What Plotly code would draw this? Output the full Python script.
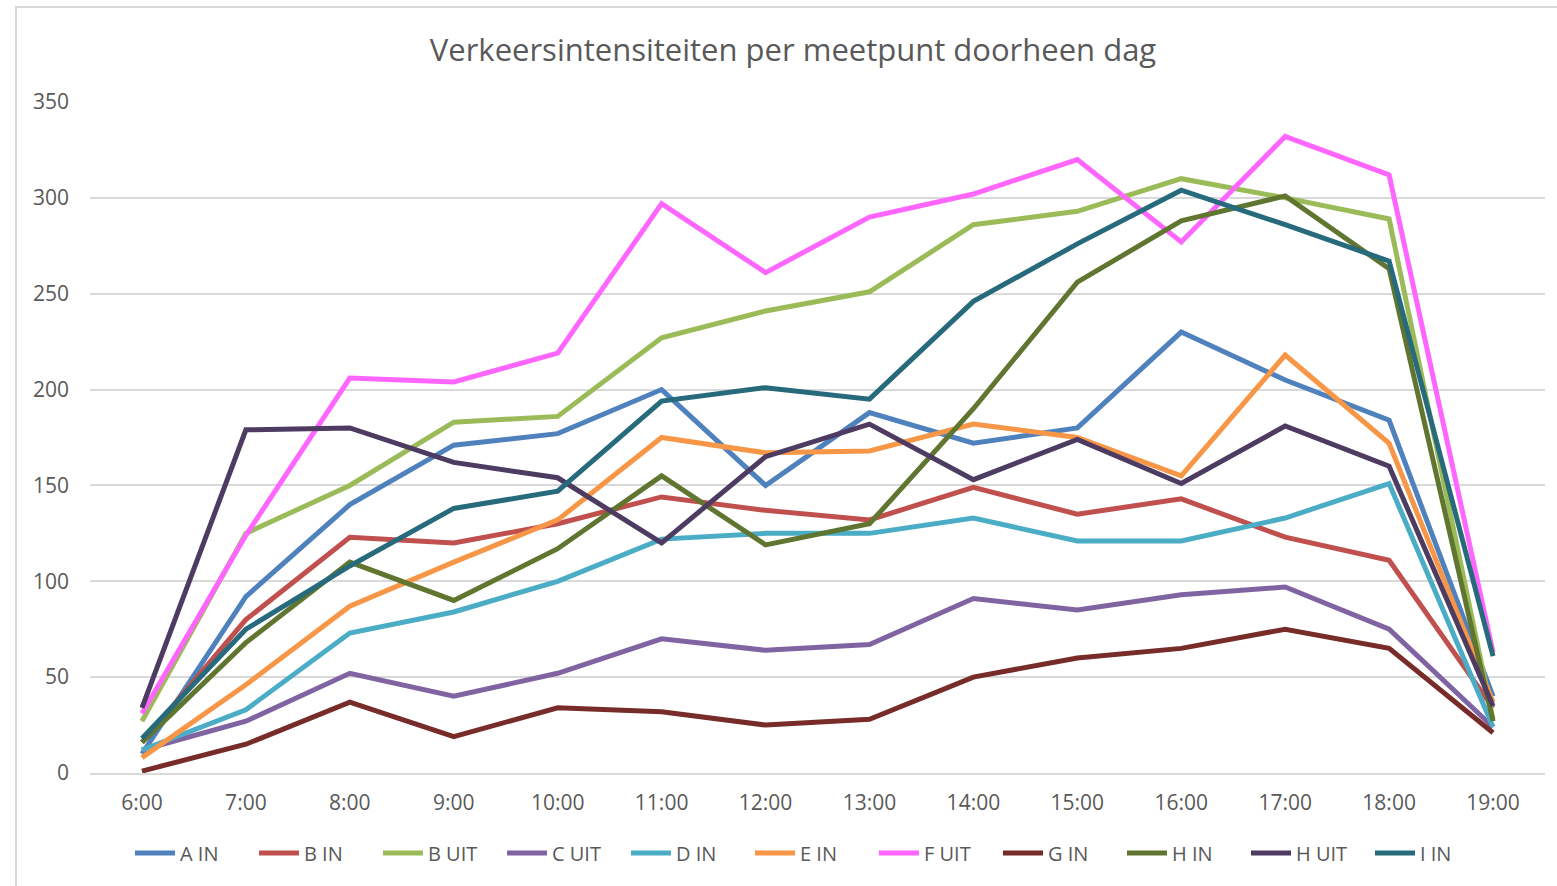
import plotly.graph_objects as go

hours = ["6:00", "7:00", "8:00", "9:00", "10:00", "11:00", "12:00",
         "13:00", "14:00", "15:00", "16:00", "17:00", "18:00", "19:00"]

a_in  = [10, 92, 140, 171, 177, 200, 150, 188, 172, 180, 230, 205, 184, 40]
b_in  = [16, 80, 123, 120, 130, 144, 137, 132, 149, 135, 143, 123, 111, 34]
b_uit = [27, 125, 150, 183, 186, 227, 241, 251, 286, 293, 310, 300, 289, 28]
c_uit = [12, 27, 52, 40, 52, 70, 64, 67, 91, 85, 93, 97, 75, 24]
d_in  = [12, 33, 73, 84, 100, 122, 125, 125, 133, 121, 121, 133, 151, 24]
e_in  = [8, 46, 87, 110, 132, 175, 167, 168, 182, 175, 155, 218, 172, 37]
f_uit = [31, 124, 206, 204, 219, 297, 261, 290, 302, 320, 277, 332, 312, 63]
g_in  = [1, 15, 37, 19, 34, 32, 25, 28, 50, 60, 65, 75, 65, 21]
h_in  = [16, 68, 110, 90, 117, 155, 119, 130, 190, 256, 288, 301, 263, 27]
h_uit = [34, 179, 180, 162, 154, 120, 165, 182, 153, 174, 151, 181, 160, 35]
i_in  = [18, 75, 108, 138, 147, 194, 201, 195, 246, 276, 304, 286, 267, 61]

series = [
    ("A IN", a_in, "#4F81BD"),
    ("B IN", b_in, "#C0504D"),
    ("B UIT", b_uit, "#9BBB59"),
    ("C UIT", c_uit, "#8064A2"),
    ("D IN", d_in, "#4BACC6"),
    ("E IN", e_in, "#F79646"),
    ("F UIT", f_uit, "#FF66FF"),
    ("G IN", g_in, "#772C2A"),
    ("H IN", h_in, "#5F7530"),
    ("H UIT", h_uit, "#4D3B62"),
    ("I IN", i_in, "#276A7C"),
]

FONT = "Open Sans"
GREY = "#595959"

fig = go.Figure()
for name, vals, col in series:
    fig.add_trace(go.Scatter(
        x=hours, y=vals, name=name, mode="lines",
        line=dict(color=col, width=5),
    ))

W, H = 1557, 886
L, R, T, B = 90, 12, 102, 113
pw, ph = W - L - R, H - T - B

def px_x(x):
    return (x - L) / pw

def px_y(y):
    return (H - B - y) / ph

fig.update_layout(
    width=W, height=H,
    margin=dict(l=L, r=R, t=T, b=B, autoexpand=False),
    paper_bgcolor="white", plot_bgcolor="white",
    font=dict(family=FONT, color=GREY, size=18),
    title=dict(text="Verkeersintensiteiten per meetpunt doorheen dag",
               xref="container", x=793 / W, xanchor="center",
               y=1 - 50 / H, yanchor="middle",
               font=dict(family=FONT, size=31, color=GREY)),
    xaxis=dict(
        type="category", range=[-0.5, 13.5],
        showgrid=False, showline=True, linecolor="#D9D9D9", linewidth=1.5,
        ticks="", tickfont=dict(size=21, color=GREY),
        ticklabelstandoff=10, zeroline=False,
    ),
    yaxis=dict(
        range=[0, 350], dtick=50, tick0=0,
        showgrid=True, gridcolor="#D9D9D9", gridwidth=1.5,
        showline=False, zeroline=False, ticks="",
        tickfont=dict(size=21, color=GREY), ticklabelstandoff=20,
    ),
    legend=dict(
        orientation="h", x=px_x(130), xanchor="left",
        y=px_y(853), yanchor="middle",
        font=dict(size=20, color=GREY), itemwidth=40,
        entrywidth=69, entrywidthmode="pixels",
        traceorder="normal",
    ),
    showlegend=True,
    shapes=[dict(
        type="rect", xref="paper", yref="paper",
        x0=px_x(16), x1=px_x(1620), y0=px_y(960), y1=px_y(7),
        line=dict(color="#D9D9D9", width=2), fillcolor="rgba(0,0,0,0)",
        layer="below",
    )],
)

fig.write_html("out.html", config={"displayModeBar": False},
               post_script="document.body.style.margin='0';")
